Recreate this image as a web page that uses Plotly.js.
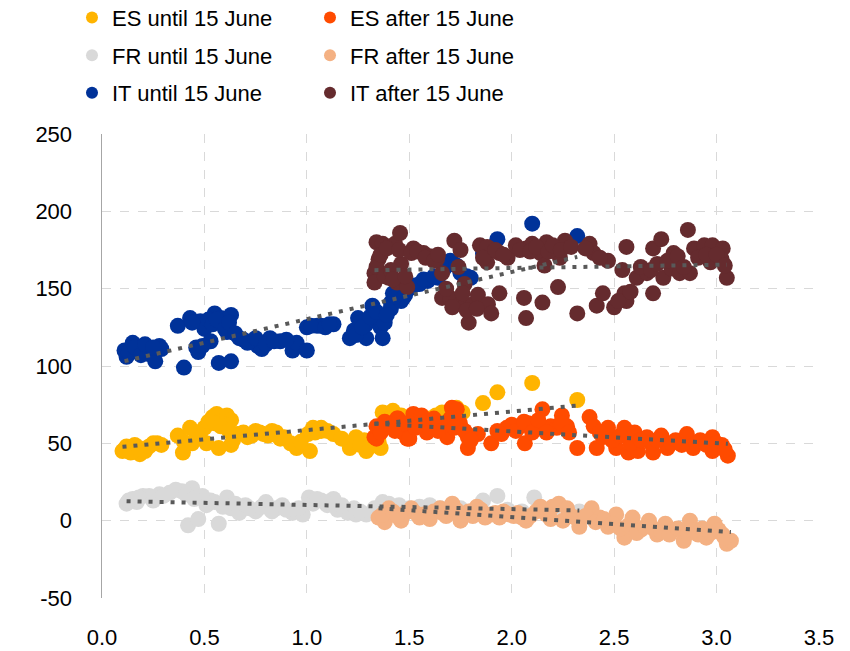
<!DOCTYPE html>
<html>
<head>
<meta charset="utf-8">
<script src="https://cdn.plot.ly/plotly-3.0.1.min.js"></script>
<style>html,body{margin:0;padding:0;background:#fff;}#chart{width:850px;height:651px;}</style>
</head>
<body>
<div id="chart"></div>
<script>
// ---- Data ----
const seriesNames = ["ES until 15 June","ES after 15 June","FR until 15 June","FR after 15 June","IT until 15 June","IT after 15 June"];

const esUntilX = [0.10,0.12,0.13,0.16,0.185,0.21,0.27,0.29,0.37,0.395,0.43,0.44,0.48,0.51,0.54,0.56,0.585,0.57,0.61,0.63,0.63,0.60,0.66,0.71,0.75,0.79,0.83,0.87,0.92,0.95,1.005,1.015,1.03,1.07,1.07,1.13,1.21,1.24,1.28,1.29,1.35,1.36,1.37,1.42,1.53,1.57,1.60,1.66,1.73,1.76,1.86,1.93,2.10,2.32,
  0.11,0.14,0.18,0.23,0.25,0.40,0.46,0.50,0.52,0.55,0.58,0.62,0.64,0.69,0.73,0.77,0.81,0.85,0.89,0.97,1.04,1.10,1.17,1.26,1.31,1.39,1.46,1.50,1.63,1.70];
const esUntilY = [45,48,47,49,43,45,50,49,55,44,60,50,57,50,67,69,65,47,68,65,49,62,56,54,58,56,58,53,50,47,56,45,60,60,58,56,47,54,52,45,51,47,70,71,66,61,66,70,73,70,76,83,89,78,
  46,44,47,48,50,51,56,60,64,63,61,58,52,57,55,57,55,57,54,51,57,58,53,49,48,66,68,67,68,69];

const esAfterX = [1.33,1.34,1.34,1.357,1.44,1.445,1.455,1.47,1.49,1.50,1.52,1.56,1.586,1.66,1.685,1.708,1.732,1.747,1.786,1.786,1.835,1.90,1.93,1.976,2.04,2.064,2.08,2.12,2.15,2.19,2.22,2.245,2.27,2.32,2.38,2.40,2.415,2.445,2.47,2.51,2.55,2.57,2.60,2.616,2.66,2.69,2.73,2.76,2.80,2.855,2.886,2.92,2.98,2.98,3.026,3.055,
  1.36,1.38,1.41,1.43,1.47,1.53,1.58,1.62,1.64,1.70,1.72,1.77,1.80,1.95,2.00,2.02,2.06,2.10,2.13,2.17,2.24,2.28,2.43,2.49,2.53,2.58,2.63,2.68,2.71,2.78,2.83,2.90,2.95,3.00,3.04];
const esAfterY = [54,53,61,60,66,66,60,57,53,53,69,68,57,60,54,73,72,63,54,47,56,50,58,60,61,50,63,60,72,61,60,68,61,47,67,61,47,54,60,47,60,44,57,45,54,44,55,47,52,56,47,52,54,45,49,42,
  57,64,62,58,63,60,64,66,58,66,60,58,52,56,62,58,64,57,65,57,63,57,57,52,55,50,52,50,52,50,49,50,49,50,46];

const frUntilX = [0.12,0.15,0.17,0.20,0.23,0.28,0.33,0.39,0.44,0.42,0.47,0.49,0.53,0.57,0.55,0.61,0.63,0.67,0.70,0.75,0.80,0.85,0.93,0.98,1.01,1.07,1.10,1.13,1.15,1.20,1.23,1.24,1.29,1.37,1.45,1.55,1.65,1.75,1.86,1.93,2.11,2.33,
  0.13,0.18,0.25,0.30,0.36,0.41,0.45,0.51,0.59,0.65,0.72,0.78,0.83,0.88,0.90,0.96,1.03,1.05,1.09,1.17,1.26,1.33,1.40,1.50,1.60,1.70,1.80,1.98,2.05,2.20];
const frUntilY = [11,14,12,16,16,17,18,19,21,-3,1,16,13,-2,12,15,8,5,10,6,12,8,5,4,15,13,10,14,7,5,8,4,4,12,10,9,8,8,13,16,15,6,
  13,15,13,16,20,17,14,10,9,11,8,9,6,10,7,8,11,14,12,10,6,8,11,8,10,9,6,7,6,6];

const frAfterX = [1.35,1.38,1.40,1.46,1.48,1.51,1.57,1.60,1.65,1.68,1.71,1.75,1.79,1.83,1.87,1.92,1.96,2.01,2.07,2.12,2.17,2.20,2.23,2.25,2.29,2.33,2.39,2.43,2.47,2.51,2.55,2.59,2.63,2.67,2.71,2.75,2.79,2.84,2.87,2.91,2.95,2.99,3.03,3.05,3.07,
  1.37,1.42,1.44,1.53,1.55,1.62,1.66,1.73,1.77,1.81,1.85,1.90,1.94,1.99,2.03,2.05,2.09,2.14,2.19,2.27,2.31,2.36,2.41,2.45,2.49,2.53,2.57,2.61,2.65,2.69,2.73,2.77,2.81,2.86,2.89,2.93,2.97,3.01,3.04];
const frAfterY = [2,-1,8,0,5,8,4,1,8,3,11,0,6,9,2,5,6,3,0,6,4,9,11,0,3,-4,8,2,-4,4,-11,2,-6,0,-9,-2,-6,-13,0,-9,-11,-2,-9,-15,-13,
  4,6,3,5,2,6,5,7,4,3,7,4,2,4,5,2,3,9,1,8,2,3,-1,1,-2,-5,-3,-8,-4,-5,-7,-9,-5,-8,-6,-5,-8,-6,-11];

const itUntilX = [0.11,0.12,0.15,0.17,0.20,0.22,0.24,0.26,0.28,0.29,0.37,0.40,0.43,0.46,0.47,0.48,0.50,0.53,0.55,0.57,0.58,0.59,0.61,0.63,0.63,0.67,0.73,0.76,0.78,0.82,0.87,0.93,0.95,1.00,1.00,1.05,1.07,1.13,1.21,1.23,1.25,1.26,1.29,1.29,1.32,1.36,1.37,1.37,1.38,1.41,1.41,1.42,1.46,1.47,1.50,1.59,1.64,1.70,1.71,1.75,1.80,1.86,1.93,2.10,2.32,
  0.13,0.16,0.19,0.21,0.25,0.44,0.49,0.52,0.54,0.56,0.60,0.62,0.65,0.69,0.71,0.75,0.80,0.84,0.90,1.02,1.09,1.11,1.24,1.27,1.31,1.34,1.39,1.43,1.45,1.48,1.52,1.55,1.57,1.62,1.67,1.73,1.78];
const itUntilY = [110,106,115,111,113,108,110,103,113,111,126,99,131,112,109,129,124,116,134,102,131,127,122,133,103,118,116,113,111,118,116,110,115,110,125,126,126,127,118,123,131,128,127,118,139,125,118,128,128,137,141,147,142,144,150,155,157,168,167,160,157,173,182,192,184,
  109,112,107,114,112,128,113,130,127,130,124,128,121,117,115,118,114,116,117,126,125,127,120,125,132,135,133,145,148,146,152,153,156,158,163,165,158];

const itAfterX = [1.33,1.33,1.34,1.35,1.37,1.40,1.43,1.44,1.455,1.46,1.49,1.52,1.57,1.60,1.635,1.66,1.66,1.70,1.72,1.75,1.74,1.77,1.75,1.79,1.81,1.835,1.845,1.88,1.88,1.884,1.90,1.94,1.98,1.94,2.06,2.07,2.07,2.10,2.14,2.15,2.16,2.17,2.21,2.226,2.235,2.26,2.32,2.38,2.40,2.415,2.445,2.47,2.50,2.54,2.55,2.56,2.56,2.61,2.66,2.69,2.69,2.73,2.74,2.78,2.79,2.82,2.86,2.87,2.89,2.94,2.97,2.98,3.03,3.025,3.05,
  1.34,1.36,1.38,1.39,1.41,1.42,1.45,1.48,1.51,1.54,1.58,1.62,1.64,1.68,1.71,1.76,1.78,1.83,1.86,1.92,1.96,2.02,2.04,2.09,2.12,2.18,2.20,2.24,2.29,2.36,2.43,2.52,2.58,2.63,2.68,2.71,2.76,2.81,2.84,2.91,2.95,3.00,3.04];
const itAfterY = [160,154,180,169,179,157,179,154,186,166,151,176,173,171,169,160,144,144,181,175,164,153,140,128,140,146,178,177,167,140,134,173,170,147,144,131,176,179,173,141,165,180,176,151,170,181,134,179,173,139,147,168,138,162,147,177,142,157,160,147,176,182,157,163,173,160,188,160,176,178,167,178,176,169,157,
  164,172,158,176,162,156,175,158,173,174,170,168,172,150,138,147,136,137,170,175,172,178,175,174,177,174,178,175,177,176,170,142,148,164,162,166,168,171,164,170,172,172,165];

const yTickVals = [-50,0,50,100,150,200,250];
const yTickText = ["-50","0","50","100","150","200","250"];

const colors = ["#FFB400","#FF4B00","#D9D9D9","#F4B183","#003299","#652B2E"];

// ---- Build traces ----
const xs = [esUntilX, esAfterX, frUntilX, frAfterX, itUntilX, itAfterX];
const ys = [esUntilY, esAfterY, frUntilY, frAfterY, itUntilY, itAfterY];
const legendOf = ["legend","legend2","legend","legend2","legend","legend2"];

function linfit(x, y) {
  const n = x.length;
  let sx=0, sy=0, sxx=0, sxy=0;
  for (let i=0;i<n;i++){sx+=x[i];sy+=y[i];sxx+=x[i]*x[i];sxy+=x[i]*y[i];}
  const b = (n*sxy - sx*sy)/(n*sxx - sx*sx);
  const a = (sy - b*sx)/n;
  const x0 = Math.min(...x), x1 = Math.max(...x);
  return {x:[x0,x1], y:[a+b*x0, a+b*x1]};
}

const scatterTraces = [];
const trendTraces = [];
for (let i=0;i<6;i++){
  scatterTraces.push({
    type:"scatter", mode:"markers", name:seriesNames[i],
    x:xs[i], y:ys[i], legend:legendOf[i], legendgroup:"g"+i,
    marker:{color:colors[i], size:16, line:{width:0}},
    hoverinfo:"x+y"
  });
  const t = linfit(xs[i], ys[i]);
  trendTraces.push({
    type:"scatter", mode:"lines", x:t.x, y:t.y, showlegend:false,
    line:{color:"#595959", width:4, dash:"4px,7px"}, hoverinfo:"skip"
  });
}

const FONT = "Liberation Sans, Arial, sans-serif";
const FS = 22;

const legendBase = {yref:"paper", y:1.2957, xanchor:"left", yanchor:"top",
          orientation:"v", traceorder:"grouped", tracegroupgap:6, itemsizing:"constant",
          font:{family:FONT, size:FS, color:"#000"}, bgcolor:"rgba(0,0,0,0)"};

const layout = {
  width:850, height:651,
  margin:{l:102, r:31, t:134, b:53, autoexpand:false},
  paper_bgcolor:"#fff", plot_bgcolor:"#fff",
  font:{family:FONT, size:FS, color:"#000"},
  showlegend:true,
  legend:Object.assign({}, legendBase, {xref:"container", x:72/850}),
  legend2:Object.assign({}, legendBase, {xref:"container", x:310/850}),
  xaxis:{range:[0,3.5], tick0:0, dtick:0.5, tickformat:".1f", showgrid:true,
         gridcolor:"#D9D9D9", griddash:"dash", gridwidth:1, zeroline:false, showline:false,
         ticks:"", ticklabelstandoff:24, tickfont:{family:FONT, size:FS, color:"#000"}},
  xaxis2:{range:[0,3.5], overlaying:"x", anchor:"free", position:50/300, side:"bottom",
          tickvals:[0,1,2,3,3.5], ticks:"outside", ticklen:8, tickwidth:1.5, tickcolor:"#404040",
          showline:true, linecolor:"#404040", linewidth:1.5, showticklabels:false, showgrid:false, zeroline:false},
  yaxis:{range:[-50,250], tickvals:yTickVals, ticktext:yTickText, showgrid:true, gridcolor:"#D9D9D9", griddash:"dash",
         zeroline:false, showline:true, linecolor:"#A6A6A6", linewidth:1.5, ticks:"",
         ticklabelstandoff:24, tickfont:{family:FONT, size:FS, color:"#000"}}
};

Plotly.newPlot("chart", scatterTraces.concat(trendTraces), layout, {staticPlot:true, displayModeBar:false});
</script>
</body>
</html>
